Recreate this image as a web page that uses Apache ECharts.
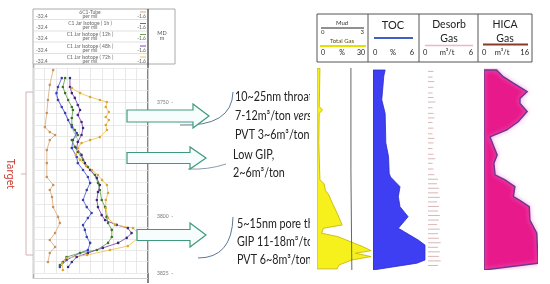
<!DOCTYPE html>
<html>
<head>
<meta charset="utf-8">
<script src="https://cdn.jsdelivr.net/npm/echarts@6/dist/echarts.min.js"></script>
<style>
  html, body { margin: 0; padding: 0; background: #fff; }
  #chart { width: 550px; height: 284px; }
</style>
</head>
<body>
<div id="chart"></div>
<script>
// left track: C1 isotope, [per mil, depth m]
const tubeC1 = [[-27.0,3736.0],[-27.9,3742.5],[-28.4,3749.1],[-28.7,3754.8],[-29.2,3761.0],[-27.9,3763.2],[-26.5,3764.5],[-27.9,3766.7],[-28.7,3771.1],[-28.7,3776.8],[-28.7,3782.9],[-27.0,3786.4],[-27.9,3788.6],[-27.3,3791.7],[-27.0,3796.1],[-25.7,3800.4],[-25.2,3803.1],[-26.5,3807.5],[-27.9,3810.5],[-26.5,3813.6],[-27.9,3816.2],[-28.4,3820.2]]
const jar1h = [[-24.7,3739.5],[-25.7,3743.4],[-26.1,3746.1],[-25.7,3749.1],[-24.7,3752.2],[-23.8,3754.8],[-23.0,3757.9],[-22.0,3761.0],[-20.7,3763.6],[-21.7,3766.7],[-22.0,3770.2],[-20.7,3774.1],[-20.4,3776.8],[-19.0,3779.8],[-17.7,3782.9],[-17.1,3785.5],[-18.0,3788.6],[-19.0,3793.0],[-18.0,3796.1],[-16.7,3798.7],[-17.7,3800.9],[-19.0,3804.0],[-18.5,3806.1],[-18.0,3809.2],[-17.1,3811.8],[-17.7,3814.9],[-19.8,3816.2],[-23.4,3819.3],[-25.2,3822.4]]
const jar12h = [[-23.8,3739.5],[-24.4,3743.4],[-23.8,3746.1],[-23.0,3749.1],[-22.0,3752.2],[-21.7,3753.5],[-22.0,3757.0],[-22.0,3760.1],[-21.2,3762.3],[-20.4,3764.5],[-22.0,3766.7],[-21.2,3769.7],[-20.4,3771.9],[-19.0,3775.4],[-17.7,3778.5],[-15.8,3782.0],[-15.0,3785.5],[-14.5,3788.6],[-14.0,3793.0],[-13.1,3796.1],[-12.7,3800.4],[-12.3,3803.1],[-11.3,3806.1],[-11.3,3809.2],[-12.3,3811.8],[-15.3,3814.9],[-19.8,3816.2],[-23.4,3818.0],[-24.4,3820.2],[-25.2,3821.5]]
const jar48h = [[-22.5,3739.5],[-22.5,3743.4],[-22.0,3746.1],[-21.2,3748.2],[-20.4,3751.3],[-19.8,3753.5],[-20.4,3755.7],[-19.4,3758.8],[-19.0,3761.4],[-19.4,3764.5],[-20.4,3767.5],[-20.7,3770.2],[-19.4,3773.2],[-18.5,3776.8],[-17.1,3779.8],[-15.3,3783.3],[-14.5,3786.4],[-15.0,3789.5],[-15.3,3793.0],[-15.0,3796.1],[-14.0,3799.6],[-13.1,3801.8],[-10.0,3803.9],[-7.0,3805.3],[-6.0,3807.5],[-7.3,3809.6],[-9.6,3811.8],[-13.7,3814.0],[-17.7,3816.2],[-20.7,3818.0],[-22.0,3820.2],[-23.0,3822.4]]
const jar72h = [[-22.0,3743.9],[-19.8,3746.1],[-17.1,3747.8],[-14.5,3749.1],[-12.6,3750.0],[-12.9,3752.2],[-12.1,3754.4],[-12.9,3756.6],[-12.1,3757.9],[-12.9,3760.1],[-12.6,3762.3],[-14.5,3765.4],[-17.1,3766.7],[-19.4,3768.0],[-20.4,3770.2],[-20.9,3773.2],[-19.8,3775.4],[-18.2,3778.1],[-16.6,3779.8],[-15.0,3782.0],[-13.9,3784.2],[-12.6,3786.4],[-12.3,3789.9],[-12.9,3793.0],[-12.9,3796.5],[-12.3,3800.9],[-10.4,3803.9],[-5.6,3805.3],[-3.5,3808.8],[-7.0,3813.2],[-11.8,3814.9],[-17.9,3817.1],[-23.3,3818.4],[-24.6,3820.6],[-24.4,3823.7]]
const c1Trend = [[-26.5,3746.1],[-20.4,3766.7]]
const depthLabels = [3750, 3775, 3800, 3825]

// right tracks: [value, depth m]
const totalGas = [[1.6,3735.1],[1.4,3745],[1.2,3752],[3.1,3753.5],[1.2,3755],[1.0,3768.2],[1.6,3784.3],[3.9,3786],[4.5,3788.8],[6.5,3791],[8.4,3794.6],[11,3799],[13.7,3804.2],[3.5,3805.6],[2.5,3807.8],[11.4,3809.3],[18.2,3811.5],[25,3813.7],[29.5,3815.5],[21,3816.6],[29.5,3818.1],[19,3819.6],[12,3821.8],[11,3823.5]]
const mudGas = [[1.85,3735],[1.85,3780],[1.9,3824]]
const toc = [[1.8,3735.9],[1.6,3738.5],[1.3,3749],[1.8,3755],[1.9,3768],[2.3,3774],[2.4,3781.4],[2.6,3783],[4.0,3787.3],[3.75,3791.7],[4.0,3796.1],[5.2,3800.5],[3.75,3805.6],[6.7,3810.8],[7.7,3813],[7.7,3819.6],[6.5,3821],[0,3824]]
const desorbDepth = [3736.5,3739,3741,3743.5,3746,3748,3750,3752.5,3755,3757,3759,3761.5,3764,3766,3768,3770.5,3773,3775,3777,3779.5,3782,3784,3786,3788,3790,3792,3794,3796,3798,3800,3802,3804,3806,3808,3810,3812,3814,3816,3818,3820,3822]
const desorbValue = [0.6,0.5,0.7,0.6,0.5,0.6,0.8,0.5,0.6,0.7,0.5,0.6,0.5,0.7,0.6,0.5,0.6,0.8,0.5,0.6,0.7,1.1,1.0,1.2,1.1,1.3,1.0,1.2,1.1,1.3,1.2,1.0,1.3,1.1,1.2,1.4,1.1,1.3,1.2,1.4,1.1]
const hica = [[4.2,3735.9],[6.4,3738.8],[9.8,3741.7],[14.4,3745.4],[12,3748.4],[12,3750.6],[14.4,3754.2],[11.4,3758.7],[7.6,3762.3],[2,3765.3],[3.3,3769.7],[4.4,3773.3],[3.3,3777],[3.7,3782.1],[7,3784.3],[10.3,3787.3],[9.8,3791.7],[11.8,3793.2],[15.1,3796.1],[15.3,3802],[17.6,3807.8],[18,3821],[0,3824]]

const chart = echarts.init(document.getElementById('chart'))

const hidden = { show: true, axisLine: { show: false }, axisTick: { show: false }, axisLabel: { show: false } }
const vgrid = { show: true, lineStyle: { color: '#e2e2e2', width: 0.8 } }

function logLine(name, data, color, dot) {
  return {
    name, type: 'line', xAxisIndex: 0, yAxisIndex: 0, data,
    symbol: 'circle', symbolSize: 2.6, z: 3,
    lineStyle: { color, width: 0.9 }, itemStyle: { color: dot }
  }
}

// filled curve from the track's zero line
function fillTrack(name, xIdx, yIdx, data, style) {
  return {
    name, type: 'custom', xAxisIndex: xIdx, yAxisIndex: yIdx, clip: true, data,
    renderItem(params, api) {
      if (params.dataIndex !== 0) return null
      const pts = [api.coord([0, data[0][1]])]
      data.forEach(p => pts.push(api.coord(p)))
      pts.push(api.coord([0, data[data.length - 1][1]]))
      return { type: 'polygon', shape: { points: pts }, style }
    }
  }
}

function arrow(x0, x1, xt, yc, bh, hh) {
  return {
    type: 'polygon', z: 5,
    shape: { points: [[x0, yc - bh], [x1, yc - bh], [x1, yc - hh], [xt, yc], [x1, yc + hh], [x1, yc + bh], [x0, yc + bh]] },
    style: { fill: '#f7fdfc', stroke: '#3f9a7c', lineWidth: 1.2 }
  }
}

function txt(text, x, y, size, opts) {
  return {
    type: 'text', x, y, z: 0,
    style: Object.assign({ text, fill: '#222', font: size + 'px Lato', textAlign: 'left', align: 'left', textVerticalAlign: 'middle', verticalAlign: 'middle' }, opts || {})
  }
}
function ctxt(text, x, y, size, fill) {
  return txt(text, x, y, size, { textAlign: 'center', align: 'center', fill: fill || '#222' })
}
// callout text, narrowed to match the original's condensed face
function ann(text, x, y, rich) {
  const el = txt(text, x, y, 12.5, rich ? { rich } : {})
  el.scaleX = 0.86
  return el
}
function hline(x1, x2, y, stroke, w) {
  return { type: 'line', shape: { x1, y1: y, x2, y2: y }, style: { stroke, lineWidth: w || 1 } }
}
function vline(x, y1, y2, stroke, w) {
  return { type: 'line', shape: { x1: x, y1, x2: x, y2 }, style: { stroke, lineWidth: w || 1 } }
}
function onTop(el) { el.z = 1; return el }

const small = 5
const hdrGray = '#666'
const headerRows = [
  ['6C1-Tube', 12, '#d9a877'],
  ['C1 Jar Isotope ( 1h )', 23.5, '#5a63d8'],
  ['C1 Jar Isotope ( 12h )', 34.5, '#6aa84f'],
  ['C1 Jar Isotope ( 48h )', 46, '#7b3fb5'],
  ['C1 Jar Isotope ( 72h )', 57, '#f1c65a']
]
const headerEls = []
headerRows.forEach(([t, y, c]) => {
  headerEls.push(ctxt(t, 90, y, small, hdrGray))
  headerEls.push(hline(140, 146, y, c, 1))
  headerEls.push(txt('-32.4', 36, y + 4.3, small, { fill: hdrGray }))
  headerEls.push(ctxt('per mil', 90, y + 4.3, small, hdrGray))
  headerEls.push(txt('-1.6', 146, y + 4.3, small, { fill: hdrGray, textAlign: 'right', align: 'right' }))
  headerEls.push(hline(34, 147, y + 7.5, '#cfcfcf', 0.6))
})

chart.setOption({
  animation: false,
  grid: [
    { left: 33, top: 67.8, width: 115, bottom: 11 },
    { left: 317, top: 68, width: 55, bottom: 14 },
    { left: 373, top: 68, width: 54, bottom: 14 },
    { left: 428, top: 68, width: 50, bottom: 14 },
    { left: 484, top: 68, width: 54, bottom: 14 }
  ],
  xAxis: [
    { gridIndex: 0, type: 'value', min: -32.4, max: -1.6, show: false },
    Object.assign({ gridIndex: 0, type: 'value', min: 0, max: 10, interval: 1, splitLine: vgrid }, hidden),
    Object.assign({ gridIndex: 1, type: 'value', min: 0, max: 30, interval: 6, splitLine: vgrid }, hidden),
    { gridIndex: 1, type: 'value', min: 0, max: 3, show: false },
    Object.assign({ gridIndex: 2, type: 'value', min: 0, max: 8, interval: 1.6, splitLine: vgrid }, hidden),
    Object.assign({ gridIndex: 3, type: 'value', min: 0, max: 5.5, interval: 1, splitLine: vgrid }, hidden),
    Object.assign({ gridIndex: 4, type: 'value', min: 0, max: 18, interval: 3, splitLine: vgrid }, hidden)
  ],
  yAxis: [
    {
      gridIndex: 0, type: 'value', inverse: true, min: 3735, max: 3825, interval: 5, position: 'right',
      axisLine: { show: false }, axisTick: { show: false },
      splitLine: { show: true, lineStyle: { color: '#e4e4e4', width: 0.8 } },
      axisLabel: { margin: 9, fontSize: 5, color: '#777', fontFamily: 'Lato', formatter: v => depthLabels.includes(v) ? v + '  -' : '' }
    },
    { gridIndex: 1, type: 'value', inverse: true, min: 3735, max: 3824, show: false },
    { gridIndex: 2, type: 'value', inverse: true, min: 3735, max: 3824, show: false },
    {
      gridIndex: 3, type: 'value', inverse: true, min: 3735, max: 3824,
      axisLine: { show: true, lineStyle: { color: '#b5b5b5', width: 1 } },
      axisTick: { show: false }, axisLabel: { show: false }, splitLine: { show: false }
    },
    { gridIndex: 4, type: 'value', inverse: true, min: 3735, max: 3824, show: false }
  ],
  graphic: [
    // left header
    { type: 'rect', shape: { x: 33, y: 9, width: 142, height: 55 }, style: { fill: 'none', stroke: '#aaa', lineWidth: 1 } },
    ...headerEls,
    ctxt('MD', 162, 33, 5.5, '#555'),
    ctxt('m', 162, 38, 5.5, '#555'),
    vline(33.5, 64, 279, '#aaa', 1.6),
    vline(148, 9, 283, '#333', 1.2),
    hline(33, 148, 278.5, '#cfcfcf', 1),
    // target bracket
    { type: 'polyline', shape: { points: [[33, 92], [26, 92], [26, 255], [33, 255]] }, style: { stroke: '#d6b0b0', lineWidth: 1, fill: 'none' } },
    hline(21, 26, 174, '#d6b0b0', 1),
    { type: 'text', x: 10, y: 174, rotation: -Math.PI / 2, style: { text: 'Target', fill: '#c8372d', font: '10px "Noto Sans"', textAlign: 'center', align: 'center', textVerticalAlign: 'middle', verticalAlign: 'middle' } },
    // arrows
    arrow(127, 193, 209, 116, 6, 12),
    arrow(127, 190, 206, 158, 5.5, 11),
    arrow(137, 190, 206, 235, 5.5, 12),
    // callout curves
    { type: 'bezierCurve', z: 0, shape: { x1: 180, y1: 125, x2: 233, y2: 92, cpx1: 232, cpy1: 127 }, style: { stroke: '#5b7896', lineWidth: 1, fill: 'none' } },
    { type: 'bezierCurve', z: 0, shape: { x1: 188, y1: 169, x2: 226, y2: 164, cpx1: 208, cpy1: 170 }, style: { stroke: '#8a9cb0', lineWidth: 1, fill: 'none' } },
    { type: 'bezierCurve', z: 0, shape: { x1: 198, y1: 258, x2: 233, y2: 217, cpx1: 232, cpy1: 258 }, style: { stroke: '#5b7896', lineWidth: 1, fill: 'none' } },
    // annotations
    ann('10~25nm throat', 235, 97),
    ann('7-12m³/ton {i|versus}', 235, 116, { i: { fontStyle: 'italic', fontSize: 12.5, fontFamily: 'Lato', fill: '#222' } }),
    ann('PVT 3~6m³/ton', 235, 135),
    ann('Low GIP,', 233, 155),
    ann('2~6m³/ton', 233, 173),
    ann('5~15nm pore throat', 237, 224),
    ann('GIP 11-18m³/ton', 237, 242),
    ann('PVT 6~8m³/ton', 237, 260),
    { type: 'rect', z: 1, shape: { x: 310, y: 0, width: 240, height: 284 }, style: { fill: '#fff' } },
    // right header
    onTop({ type: 'rect', shape: { x: 317, y: 14, width: 215, height: 48 }, style: { fill: 'none', stroke: '#555', lineWidth: 1 } }),
    onTop(vline(368, 14, 62, '#555', 1)),
    onTop(vline(419, 14, 62, '#555', 1)),
    onTop(vline(478, 14, 62, '#555', 1)),
    onTop(ctxt('Mud', 342, 23, 6, '#333')),
    onTop(hline(321, 364, 28, '#222', 1)),
    onTop(txt('0', 321, 32, 6, { fill: '#333' })),
    onTop(txt('3', 364, 32, 6, { fill: '#333', textAlign: 'right', align: 'right' })),
    onTop(ctxt('Total Gas', 342, 41.5, 6, '#5a4a10')),
    onTop(hline(320, 366, 46, '#e6e000', 2)),
    onTop(txt('0', 321, 53, 7, { fill: '#222' })),
    onTop(ctxt('%', 342, 53, 7)),
    onTop(txt('30', 365, 53, 7, { fill: '#222', textAlign: 'right', align: 'right' })),
    onTop(ctxt('TOC', 393, 25, 11)),
    onTop(hline(374, 413, 38, '#4060c8', 2)),
    onTop(txt('0', 373, 53, 7.5)),
    onTop(ctxt('%', 393, 53, 7.5)),
    onTop(txt('6', 414, 53, 7.5, { fill: '#222', textAlign: 'right', align: 'right' })),
    onTop(ctxt('Desorb', 449, 25, 10.5)),
    onTop(ctxt('Gas', 449, 39, 10.5)),
    onTop(hline(425, 473, 45.5, '#ecb8c8', 1.5)),
    onTop(txt('0', 423, 53, 7.5)),
    onTop(ctxt('m³/t', 447, 53, 7.5)),
    onTop(txt('6', 473, 53, 7.5, { fill: '#222', textAlign: 'right', align: 'right' })),
    onTop(ctxt('HICA', 505, 25, 10.5)),
    onTop(ctxt('Gas', 505, 39, 10.5)),
    onTop(hline(483, 528, 44.5, '#8b3a2a', 2)),
    onTop(txt('0', 482, 53, 7.5)),
    onTop(ctxt('m³/t', 502, 53, 7.5)),
    onTop(txt('16', 529, 53, 7.5, { fill: '#222', textAlign: 'right', align: 'right' }))
  ],
  series: [
    logLine('6C1-Tube', tubeC1, '#ddb184', '#c8935e'),
    { name: 'trend', type: 'line', xAxisIndex: 0, yAxisIndex: 0, data: c1Trend, symbol: 'none', lineStyle: { color: '#9cb8e6', width: 0.8 } },
    logLine('C1 Jar Isotope (1h)', jar1h, '#5a63d8', '#3a3fb0'),
    logLine('C1 Jar Isotope (12h)', jar12h, '#6aa84f', '#3f6f2a'),
    logLine('C1 Jar Isotope (48h)', jar48h, '#9046b8', '#2e2e7a'),
    logLine('C1 Jar Isotope (72h)', jar72h, '#f1c65a', '#d9a832'),
    fillTrack('Total Gas', 2, 1, totalGas, { fill: '#f6f01c', stroke: '#c4b000', lineWidth: 0.8 }),
    { name: 'Mud', type: 'line', xAxisIndex: 3, yAxisIndex: 1, data: mudGas, symbol: 'none', z: 3, lineStyle: { color: '#666', width: 1 } },
    fillTrack('TOC', 4, 2, toc, { fill: '#3e3ef2', stroke: '#2b2bc8', lineWidth: 0.8 }),
    {
      name: 'Desorb Gas', type: 'custom', xAxisIndex: 5, yAxisIndex: 3,
      data: desorbDepth.map((d, i) => [desorbValue[i], d]),
      renderItem(params, api) {
        const p0 = api.coord([0, api.value(1)])
        const p1 = api.coord([api.value(0), api.value(1)])
        return { type: 'line', shape: { x1: p0[0], y1: p0[1], x2: p1[0], y2: p1[1] }, style: { stroke: '#cfa3a3', lineWidth: 0.8 } }
      }
    },
    fillTrack('HICA Gas', 6, 4, hica, { fill: '#e8198b', stroke: '#6b3a8c', lineWidth: 1.4, shadowBlur: 4, shadowColor: 'rgba(245,150,220,0.8)' })
  ]
})
</script>
</body>
</html>
